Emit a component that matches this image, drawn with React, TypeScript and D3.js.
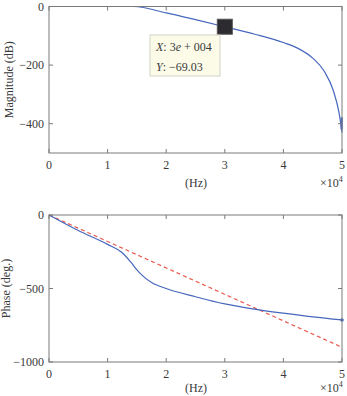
import React from "react"
import * as d3 from "d3"

const width = 347
const height = 396

// frequency axis is in units of 1e4 Hz
const xTicks = [0, 1, 2, 3, 4, 5]
const magTicks = [0, -200, -400]
const phaseTicks = [0, -500, -1000]

const magFreq = [0, 0.5, 1, 1.45, 2, 2.5, 3, 3.5, 4, 4.25, 4.5, 4.7, 4.85, 4.95, 5]
const magDb = [0, 0, 0, 0, -22, -45, -69.03, -94, -123, -143, -176, -222, -286, -363, -430]
const magTailFreq = [4.995, 4.995]
const magTailDb = [-378, -420]

const phaseFreq = [0, 0.5, 1, 1.25, 1.4, 1.5, 1.6, 1.75, 2, 2.5, 3, 3.5, 4, 4.5, 5]
const phaseDeg = [0, -106, -200, -257, -323, -373, -414, -459, -500, -556, -605, -640, -668, -693, -714]
const linearFreq = [0, 5]
const linearDeg = [0, -900]

const tipX = 3
const tipY = -69.03

const font = "'Liberation Serif', 'DejaVu Serif', serif"
const axisColor = "#7a7a7a"
const textColor = "#3a3a3a"
const blue = "#4667bd"
const red = "#ea5a4e"

const left = 49
const right = 342

type Pt = [number, number]
const zip = (xs: number[], ys: number[]): Pt[] => xs.map((x, i) => [x, ys[i]])

const Panel = ({ top, bottom, domain, ticks, label, labelX, hzDy, children }: any) => {
  const x = d3.scaleLinear().domain([0, 5]).range([left, right])
  const y = d3.scaleLinear().domain(domain).range([bottom, top])
  const t = 4
  return (
    <g fontFamily={font} fontSize={12} fill={textColor}>
      {children(x, y)}
      <rect x={left} y={top} width={right - left} height={bottom - top} fill="none" stroke={axisColor} strokeWidth={1} />
      {xTicks.map(v => (
        <g key={"x" + v}>
          <line x1={x(v)} x2={x(v)} y1={bottom} y2={bottom - t} stroke={axisColor} />
          <line x1={x(v)} x2={x(v)} y1={top} y2={top + t} stroke={axisColor} />
          <text x={x(v)} y={bottom + 16} textAnchor="middle">{v}</text>
        </g>
      ))}
      {ticks.map((v: number) => (
        <g key={"y" + v}>
          <line x1={left} x2={left + t} y1={y(v)} y2={y(v)} stroke={axisColor} />
          <line x1={right} x2={right - t} y1={y(v)} y2={y(v)} stroke={axisColor} />
          <text x={left - 5} y={y(v) + 4} textAnchor="end">{v === 0 ? "0" : "\u2212" + Math.abs(v)}</text>
        </g>
      ))}
      <text x={196} y={bottom + hzDy} textAnchor="middle">(Hz)</text>
      <text x={320} y={bottom + hzDy}>
        ×10<tspan dy={-5} fontSize={8}>4</tspan>
      </text>
      <text transform={`translate(${labelX},${(top + bottom) / 2}) rotate(-90)`} textAnchor="middle">{label}</text>
    </g>
  )
}

const App = () => {
  return (
    <div style={{ position: "absolute", left: 0, top: 0 }}>
      <svg width={width} height={height} style={{ display: "block", background: "#fff" }}>
        <Panel top={6.5} bottom={153} domain={[-500, 0]} ticks={magTicks} label="Magnitude (dB)" labelX={13} hzDy={34}>
          {(x: any, y: any) => {
            const line = d3.line<Pt>().x(d => x(d[0])).y(d => y(d[1])).curve(d3.curveMonotoneX)
            const tail = d3.line<Pt>().x(d => x(d[0])).y(d => y(d[1]))
            const sz = 15
            return (
              <g>
                <path d={line(zip(magFreq, magDb)) || ""} fill="none" stroke={blue} strokeWidth={1.2} />
                <path d={tail(zip(magTailFreq, magTailDb)) || ""} fill="none" stroke={blue} strokeWidth={2.2} />
                <rect x={x(tipX) - sz / 2} y={y(tipY) - sz / 2} width={sz} height={sz} fill="#2b2b30" stroke="#555" />
                <rect x={150} y={35} width={70} height={41} fill="#fbfbe8" stroke="#d4d4c8" />
                <text x={156} y={51}>
                  <tspan fontStyle="italic">X</tspan>: 3<tspan fontStyle="italic">e</tspan> + 004
                </text>
                <text x={156} y={71}>
                  <tspan fontStyle="italic">Y</tspan>: {"\u2212" + Math.abs(tipY).toFixed(2)}
                </text>
              </g>
            )
          }}
        </Panel>
        <Panel top={215} bottom={362} domain={[-1000, 0]} ticks={phaseTicks} label="Phase (deg.)" labelX={10} hzDy={30}>
          {(x: any, y: any) => {
            const curve = d3.line<Pt>().x(d => x(d[0])).y(d => y(d[1])).curve(d3.curveMonotoneX)
            const straight = d3.line<Pt>().x(d => x(d[0])).y(d => y(d[1]))
            return (
              <g>
                <path d={straight(zip(linearFreq, linearDeg)) || ""} fill="none" stroke={red} strokeWidth={1.2} strokeDasharray="4,3" />
                <path d={curve(zip(phaseFreq, phaseDeg)) || ""} fill="none" stroke={blue} strokeWidth={1.2} />
                <circle cx={x(5)} cy={y(phaseDeg[phaseDeg.length - 1])} r={1.8} fill={blue} />
              </g>
            )
          }}
        </Panel>
      </svg>
    </div>
  )
}

export default App
